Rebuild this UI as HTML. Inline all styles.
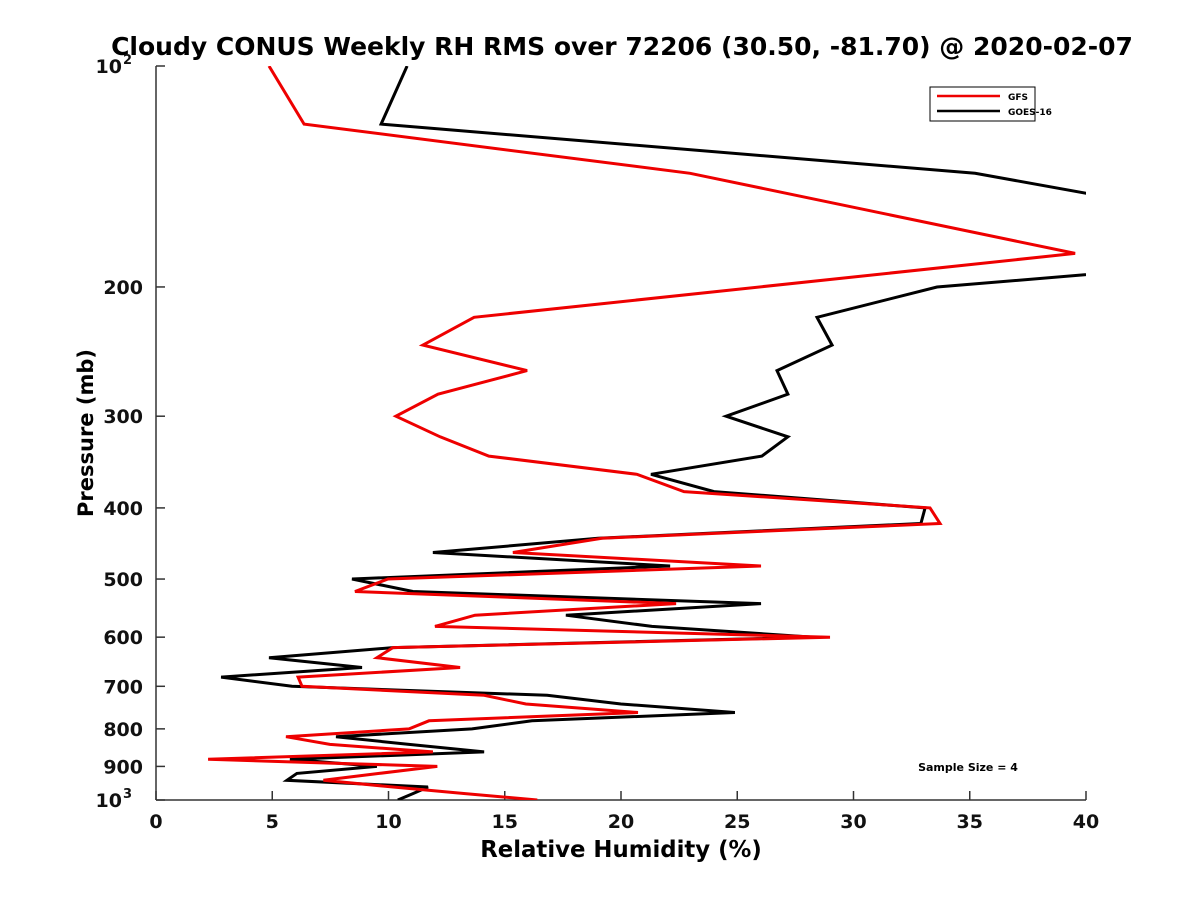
<!DOCTYPE html>
<html><head><meta charset="utf-8"><style>
html,body{margin:0;padding:0;background:#fff;}
svg text{font-family:"DejaVu Sans","Liberation Sans",sans-serif;}
</style></head><body>
<svg id="chart" width="1200" height="900" xmlns="http://www.w3.org/2000/svg">
<defs><clipPath id="plotclip"><rect x="156" y="66" width="930" height="734"/></clipPath></defs>
<rect width="1200" height="900" fill="#fff"/>
<text x="622" y="55" text-anchor="middle" font-size="25" font-weight="bold">Cloudy CONUS Weekly RH RMS over 72206 (30.50, -81.70) @ 2020-02-07</text>
<g id="axes"></g>
<g id="series" clip-path="url(#plotclip)"></g>
<g>
<rect x="930" y="87" width="105" height="34" fill="#fff" stroke="#000" stroke-width="1"/>
<line x1="937" y1="96" x2="1000" y2="96" stroke="#e00" stroke-width="2.5"/>
<text x="1008" y="100" font-size="9" font-weight="bold">GFS</text>
<line x1="937" y1="111" x2="1000" y2="111" stroke="#000" stroke-width="2.5"/>
<text x="1008" y="115" font-size="9" font-weight="bold">GOES-16</text>
</g>
<text x="968" y="771" text-anchor="middle" font-size="11" font-weight="bold">Sample Size = 4</text>
<text x="621" y="857" text-anchor="middle" font-size="22.8" font-weight="bold">Relative Humidity (%)</text>
<text transform="translate(93,433) rotate(-90)" text-anchor="middle" font-size="21" font-weight="bold">Pressure (mb)</text>
</svg>
<script>
const gfsPressure = [100,120,140,180,220,240,260,280,300,320,340,360,380,400,420,440,460,480,500,520,540,560,580,600,620,640,660,680,700,720,740,760,780,800,820,840,860,880,900,920,940,960,980,1000];
const gfsRH = [4.86,6.37,22.97,39.53,13.68,11.48,15.96,12.13,10.32,12.22,14.32,20.69,22.71,33.29,33.72,19.18,15.35,26.02,9.98,8.56,22.37,13.72,12.0,28.99,10.19,9.5,13.08,6.11,6.28,14.11,15.91,20.73,11.74,10.88,5.59,7.48,11.91,2.24,12.1,9.6,7.2,10.2,13.3,16.4];
const goesPressure = [100,120,140,160,180,200,220,240,260,280,300,320,340,360,380,400,420,440,460,480,500,520,540,560,580,600,620,640,660,680,700,720,740,760,780,800,820,840,860,880,900,920,940,960,980,1000];
const goesRH = [10.8,9.68,35.23,45.4,51,33.59,28.43,29.08,26.71,27.18,24.52,27.18,26.06,21.29,24.0,33.08,32.9,19.01,11.91,22.11,8.43,11.05,26.02,17.63,21.33,28.3,10.19,4.86,8.86,2.8,5.85,16.82,20.0,24.9,16.17,13.59,7.74,10.88,14.11,5.76,9.5,6.06,5.63,11.7,11.05,10.4];
const xTicks = [0,5,10,15,20,25,30,35,40];
const yTicks = [200,300,400,500,600,700,800,900];
const yTickLabels = ["200","300","400","500","600","700","800","900"];

const X0=156,X1=1086,Y0=66,Y1=800;
function xs(v){return X0+(v-0)/40*(X1-X0);}
function ys(p){return Y0+(Math.log10(p)-2)*(Y1-Y0);}
const NS="http://www.w3.org/2000/svg";
const axes=document.getElementById('axes');
const series=document.getElementById('series');
function mk(tag,attrs,parent){const e=document.createElementNS(NS,tag);for(const k in attrs)e.setAttribute(k,attrs[k]);parent.appendChild(e);return e;}

const xAxis=mk('line',{x1:X0,y1:Y1,x2:X1,y2:Y1,stroke:'#333','stroke-width':1.5},axes);


const yAxis=mk('line',{x1:X0,y1:Y0,x2:X0,y2:Y1,stroke:'#333','stroke-width':1.5},axes);



xTicks.forEach(v=>{
  const x=xs(v);
  mk('line',{x1:x,y1:Y1,x2:x,y2:Y1-9,stroke:'#333','stroke-width':1.5},axes);
  const t=mk('text',{x:x,y:Y1+28,'text-anchor':'middle','font-size':19,'font-weight':'bold',fill:'#111'},axes);
  t.textContent=String(v);
  
  
});
yTicks.forEach((p,i)=>{
  const y=ys(p);
  mk('line',{x1:X0,y1:y,x2:X0+9,y2:y,stroke:'#333','stroke-width':1.5},axes);
  const t=mk('text',{x:X0-13,y:y+7,'text-anchor':'end','font-size':19,'font-weight':'bold',fill:'#111'},axes);
  t.textContent=yTickLabels[i];
  
  
});
[[100,'2'],[1000,'3']].forEach(([p,e])=>{
  const y=ys(p);
  mk('line',{x1:X0,y1:y,x2:X0+9,y2:y,stroke:'#333','stroke-width':1.5},axes);
  const t=mk('text',{x:X0-34,y:y+7,'text-anchor':'end','font-size':19,'font-weight':'bold',fill:'#111'},axes);
  t.textContent='10';
  
  
  const s=mk('text',{x:X0-33,y:y-2,'text-anchor':'start','font-size':13,'font-weight':'bold',fill:'#111'},axes);
  s.textContent=e;
  
  
});

function line(P,V,color,name){
  const d=P.map((p,i)=>(i?'L':'M')+xs(V[i]).toFixed(1)+','+ys(p).toFixed(1)).join(' ');
  const el=mk('path',{d:d,fill:'none',stroke:color,'stroke-width':3,'stroke-linejoin':'miter'},series);
  
  
}
line(goesPressure,goesRH,'#000','goes16-line');
line(gfsPressure,gfsRH,'#e00','gfs-line');
</script>
</body></html>
